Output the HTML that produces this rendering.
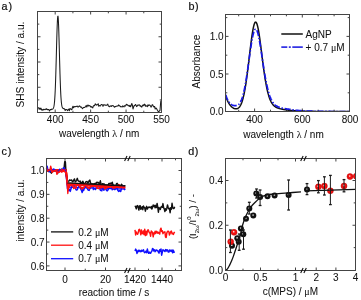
<!DOCTYPE html>
<html><head><meta charset="utf-8"><style>
html,body{margin:0;padding:0;background:#fff;width:361px;height:300px;overflow:hidden}
svg{display:block;filter:blur(0.3px)}
text{font-family:"Liberation Sans", sans-serif;stroke:#111;stroke-width:0.05px}
</style></head><body>
<svg width="361" height="300" viewBox="0 0 361 300" font-family='"Liberation Sans", sans-serif'><text x="1.50" y="10.00" font-size="10.8" text-anchor="start" fill="#111" style="stroke-width:0.2px">a<tspan dx="0.9">)</tspan></text>
<line x1="55.20" y1="112.50" x2="55.20" y2="109.50" stroke="#444" stroke-width="1"/>
<line x1="55.20" y1="11.50" x2="55.20" y2="14.50" stroke="#444" stroke-width="1"/>
<line x1="72.92" y1="112.50" x2="72.92" y2="110.70" stroke="#444" stroke-width="1"/>
<line x1="72.92" y1="11.50" x2="72.92" y2="13.30" stroke="#444" stroke-width="1"/>
<line x1="90.64" y1="112.50" x2="90.64" y2="109.50" stroke="#444" stroke-width="1"/>
<line x1="90.64" y1="11.50" x2="90.64" y2="14.50" stroke="#444" stroke-width="1"/>
<line x1="108.35" y1="112.50" x2="108.35" y2="110.70" stroke="#444" stroke-width="1"/>
<line x1="108.35" y1="11.50" x2="108.35" y2="13.30" stroke="#444" stroke-width="1"/>
<line x1="126.07" y1="112.50" x2="126.07" y2="109.50" stroke="#444" stroke-width="1"/>
<line x1="126.07" y1="11.50" x2="126.07" y2="14.50" stroke="#444" stroke-width="1"/>
<line x1="143.79" y1="112.50" x2="143.79" y2="110.70" stroke="#444" stroke-width="1"/>
<line x1="143.79" y1="11.50" x2="143.79" y2="13.30" stroke="#444" stroke-width="1"/>
<line x1="37.50" y1="24.12" x2="39.30" y2="24.12" stroke="#444" stroke-width="1"/>
<line x1="161.50" y1="24.12" x2="159.70" y2="24.12" stroke="#444" stroke-width="1"/>
<line x1="37.50" y1="36.75" x2="40.50" y2="36.75" stroke="#444" stroke-width="1"/>
<line x1="161.50" y1="36.75" x2="158.50" y2="36.75" stroke="#444" stroke-width="1"/>
<line x1="37.50" y1="49.38" x2="39.30" y2="49.38" stroke="#444" stroke-width="1"/>
<line x1="161.50" y1="49.38" x2="159.70" y2="49.38" stroke="#444" stroke-width="1"/>
<line x1="37.50" y1="62.00" x2="40.50" y2="62.00" stroke="#444" stroke-width="1"/>
<line x1="161.50" y1="62.00" x2="158.50" y2="62.00" stroke="#444" stroke-width="1"/>
<line x1="37.50" y1="74.62" x2="39.30" y2="74.62" stroke="#444" stroke-width="1"/>
<line x1="161.50" y1="74.62" x2="159.70" y2="74.62" stroke="#444" stroke-width="1"/>
<line x1="37.50" y1="87.25" x2="40.50" y2="87.25" stroke="#444" stroke-width="1"/>
<line x1="161.50" y1="87.25" x2="158.50" y2="87.25" stroke="#444" stroke-width="1"/>
<line x1="37.50" y1="99.88" x2="39.30" y2="99.88" stroke="#444" stroke-width="1"/>
<line x1="161.50" y1="99.88" x2="159.70" y2="99.88" stroke="#444" stroke-width="1"/>
<polyline points="38.00,107.55 38.60,107.90 39.20,109.23 39.80,107.93 40.40,109.25 41.00,108.13 41.60,110.03 42.20,109.58 42.80,110.26 43.40,109.28 44.00,109.82 44.60,109.41 45.20,109.13 45.80,109.59 46.40,108.79 47.00,109.25 47.60,109.80 48.20,109.49 48.80,109.41 49.40,111.02 50.00,110.03 50.60,109.47 51.20,109.66 51.80,109.06 52.40,109.16 52.60,109.08 52.80,108.96 53.00,108.79 53.20,108.54 53.40,108.18 53.60,107.67 53.80,106.97 54.00,106.01 54.20,104.73 54.40,103.04 54.60,100.87 54.80,98.14 55.00,94.77 55.20,90.70 55.40,85.90 55.60,80.38 55.80,74.16 56.00,67.36 56.20,60.12 56.40,52.62 56.60,45.14 56.80,37.93 57.00,31.32 57.20,25.58 57.40,21.00 57.60,17.80 57.80,16.15 58.00,16.14 58.20,17.76 58.40,20.94 58.60,25.49 58.80,31.21 59.00,37.80 59.20,44.98 59.40,52.44 59.60,59.91 59.80,67.13 60.00,73.91 60.20,80.10 60.40,85.60 60.60,90.37 60.80,94.41 61.00,97.76 61.20,100.47 61.40,102.62 61.60,104.28 61.80,105.54 62.00,106.47 62.20,107.15 62.40,107.63 62.60,107.97 62.80,108.19 63.00,108.34 63.20,108.44 63.40,108.49 63.60,108.59 63.80,108.72 64.00,108.63 64.60,108.99 65.20,110.53 65.80,109.47 66.40,109.59 67.00,109.90 67.60,110.68 68.20,109.44 68.80,109.12 69.40,110.73 70.00,108.46 70.60,108.96 71.20,109.32 71.80,109.76 72.40,107.53 73.00,106.26 73.60,107.70 74.20,106.79 74.80,106.61 75.40,106.81 76.00,106.42 76.60,106.43 77.20,106.00 77.80,106.92 78.40,107.01 79.00,106.17 79.60,105.87 80.20,106.72 80.80,107.24 81.40,107.07 82.00,108.05 82.60,108.64 83.20,107.77 83.80,107.40 84.40,107.46 85.00,107.08 85.60,106.76 86.20,105.36 86.80,107.04 87.40,105.85 88.00,104.92 88.60,106.00 89.20,105.69 89.80,105.59 90.40,106.34 91.00,107.24 91.60,106.54 92.20,107.35 92.80,107.91 93.40,105.84 94.00,105.51 94.60,105.63 95.20,103.80 95.80,104.41 96.40,105.09 97.00,104.77 97.60,104.78 98.20,103.68 98.80,106.27 99.40,105.54 100.00,105.92 100.60,105.73 101.20,104.48 101.80,104.59 102.40,104.67 103.00,106.35 103.60,104.74 104.20,104.97 104.80,104.86 105.40,105.21 106.00,105.08 106.60,105.31 107.20,104.83 107.80,104.15 108.40,106.12 109.00,106.22 109.60,106.80 110.20,106.11 110.80,105.87 111.40,106.48 112.00,105.45 112.60,105.68 113.20,105.66 113.80,106.32 114.40,107.27 115.00,106.49 115.60,106.66 116.20,106.15 116.80,106.23 117.40,105.89 118.00,106.05 118.60,104.92 119.20,105.66 119.80,105.67 120.40,106.80 121.00,106.61 121.60,106.79 122.20,106.93 122.80,105.81 123.40,106.47 124.00,106.88 124.60,105.64 125.20,106.08 125.80,105.23 126.40,104.27 127.00,105.07 127.60,104.85 128.20,105.66 128.80,105.65 129.40,106.38 130.00,105.32 130.60,106.72 131.20,105.39 131.80,103.52 132.40,105.14 133.00,109.00 133.60,107.09 134.20,105.49 134.80,105.63 135.40,104.49 136.00,105.11 136.60,106.63 137.20,106.09 137.80,105.00 138.40,105.24 139.00,104.80 139.60,104.92 140.20,106.19 140.80,105.84 141.40,107.00 142.00,106.90 142.60,105.18 143.20,104.88 143.80,105.74 144.40,104.13 145.00,104.51 145.60,106.33 146.20,106.02 146.80,105.86 147.40,106.59 148.00,104.68 148.60,105.80 149.20,105.01 149.80,105.11 150.40,105.74 151.00,107.15 151.60,106.06 152.20,104.75 152.80,104.80 153.40,106.60 154.00,106.97 154.60,106.45 155.20,109.06 155.80,108.09 156.40,108.23 157.00,109.42 157.60,110.57 158.20,111.49 158.80,111.70 159.40,110.86 160.00,110.48 160.60,103.11 160.90,100.50" fill="none" stroke="#1a1a1a" stroke-width="1.05" stroke-linejoin="round" />
<rect x="37.5" y="11.5" width="124.0" height="101.0" fill="none" stroke="#444" stroke-width="1"/>
<text x="55.20" y="123.00" font-size="10" text-anchor="middle" fill="#111" >400</text>
<text x="90.64" y="123.00" font-size="10" text-anchor="middle" fill="#111" >450</text>
<text x="126.07" y="123.00" font-size="10" text-anchor="middle" fill="#111" >500</text>
<text x="161.50" y="123.00" font-size="10" text-anchor="middle" fill="#111" >550</text>
<text x="99.15" y="137.40" font-size="10" text-anchor="middle" fill="#111" >wavelength <tspan font-family="Liberation Serif">λ</tspan> / nm</text>
<text x="0" y="0" font-size="10.1" text-anchor="middle" fill="#111" transform="translate(24.20,64.50) rotate(-90)" >SHS intensity / a.u.</text>
<text x="188.40" y="10.20" font-size="10.8" text-anchor="start" fill="#111" style="stroke-width:0.2px">b<tspan dx="0.6">)</tspan></text>
<line x1="238.70" y1="111.50" x2="238.70" y2="109.70" stroke="#444" stroke-width="1"/>
<line x1="238.70" y1="14.50" x2="238.70" y2="16.30" stroke="#444" stroke-width="1"/>
<line x1="254.60" y1="111.50" x2="254.60" y2="108.50" stroke="#444" stroke-width="1"/>
<line x1="254.60" y1="14.50" x2="254.60" y2="17.50" stroke="#444" stroke-width="1"/>
<line x1="270.50" y1="111.50" x2="270.50" y2="109.70" stroke="#444" stroke-width="1"/>
<line x1="270.50" y1="14.50" x2="270.50" y2="16.30" stroke="#444" stroke-width="1"/>
<line x1="286.40" y1="111.50" x2="286.40" y2="109.70" stroke="#444" stroke-width="1"/>
<line x1="286.40" y1="14.50" x2="286.40" y2="16.30" stroke="#444" stroke-width="1"/>
<line x1="302.30" y1="111.50" x2="302.30" y2="108.50" stroke="#444" stroke-width="1"/>
<line x1="302.30" y1="14.50" x2="302.30" y2="17.50" stroke="#444" stroke-width="1"/>
<line x1="318.20" y1="111.50" x2="318.20" y2="109.70" stroke="#444" stroke-width="1"/>
<line x1="318.20" y1="14.50" x2="318.20" y2="16.30" stroke="#444" stroke-width="1"/>
<line x1="334.10" y1="111.50" x2="334.10" y2="109.70" stroke="#444" stroke-width="1"/>
<line x1="334.10" y1="14.50" x2="334.10" y2="16.30" stroke="#444" stroke-width="1"/>
<line x1="225.50" y1="92.80" x2="227.30" y2="92.80" stroke="#444" stroke-width="1"/>
<line x1="349.50" y1="92.80" x2="347.70" y2="92.80" stroke="#444" stroke-width="1"/>
<line x1="225.50" y1="74.00" x2="228.50" y2="74.00" stroke="#444" stroke-width="1"/>
<line x1="349.50" y1="74.00" x2="346.50" y2="74.00" stroke="#444" stroke-width="1"/>
<line x1="225.50" y1="55.20" x2="227.30" y2="55.20" stroke="#444" stroke-width="1"/>
<line x1="349.50" y1="55.20" x2="347.70" y2="55.20" stroke="#444" stroke-width="1"/>
<line x1="225.50" y1="36.40" x2="228.50" y2="36.40" stroke="#444" stroke-width="1"/>
<line x1="349.50" y1="36.40" x2="346.50" y2="36.40" stroke="#444" stroke-width="1"/>
<line x1="225.50" y1="17.60" x2="227.30" y2="17.60" stroke="#444" stroke-width="1"/>
<line x1="349.50" y1="17.60" x2="347.70" y2="17.60" stroke="#444" stroke-width="1"/>
<defs><clipPath id="cb"><rect x="225.5" y="14.5" width="124" height="96.6"/></clipPath></defs><g clip-path="url(#cb)">
<polyline points="225.70,95.81 226.20,97.35 226.70,98.73 227.20,99.97 227.70,101.09 228.20,102.10 228.70,103.00 229.20,103.82 229.70,104.56 230.20,105.23 230.70,105.83 231.20,106.37 231.70,106.86 232.20,107.29 232.70,107.66 233.20,107.99 233.70,108.26 234.20,108.49 234.70,108.66 235.20,108.78 235.70,108.84 236.20,108.84 236.70,108.79 237.20,108.67 237.70,108.47 238.20,108.18 238.70,107.78 239.20,107.28 239.70,106.66 240.20,105.89 240.70,104.99 241.20,103.91 241.70,102.66 242.20,101.22 242.70,99.57 243.20,97.70 243.70,95.60 244.20,93.26 244.70,90.68 245.20,87.84 245.70,84.77 246.20,81.46 246.70,77.92 247.20,74.19 247.70,70.27 248.20,66.22 248.70,62.06 249.20,57.84 249.70,53.61 250.20,49.35 250.70,45.26 251.20,41.32 251.70,37.61 252.20,34.18 252.70,31.08 253.20,28.38 253.70,26.11 254.20,24.32 254.70,23.04 255.20,22.29 255.70,22.09 256.20,22.43 256.70,23.31 257.20,24.71 257.70,26.60 258.20,28.95 258.70,31.70 259.20,34.81 259.70,38.22 260.20,41.87 260.70,45.70 261.20,49.64 261.70,53.64 262.20,57.64 262.70,61.59 263.20,65.44 263.70,69.17 264.20,72.73 264.70,76.10 265.20,79.27 265.70,82.24 266.20,84.99 266.70,87.52 267.20,89.85 267.70,91.97 268.20,93.90 268.70,95.65 269.20,97.23 269.70,98.64 270.20,99.90 270.70,101.02 271.20,102.01 271.70,102.89 272.20,103.66 272.70,104.34 273.20,104.94 273.70,105.46 274.20,105.92 274.70,106.32 275.20,106.68 275.70,106.99 276.20,107.27 276.70,107.52 277.20,107.75 277.70,107.95 278.20,108.14 278.70,108.30 279.20,108.46 279.70,108.60 280.20,108.74 280.70,108.86 281.20,108.98 281.70,109.09 282.20,109.20 282.70,109.30 283.20,109.39 283.70,109.49 284.20,109.57 284.70,109.65 285.20,109.73 285.70,109.81 286.20,109.88 286.70,109.95 287.20,110.01 287.70,110.08 288.20,110.14 288.70,110.19 289.20,110.25 289.70,110.30 290.20,110.35 290.70,110.40 291.20,110.45 291.70,110.49 292.20,110.54 292.70,110.58 293.20,110.62 293.70,110.65 294.20,110.69 294.70,110.72 295.20,110.76 295.70,110.79 296.20,110.82 296.70,110.85 297.20,110.88 297.70,110.90 298.20,110.93 298.70,110.95 299.20,110.98 299.70,111.00 300.20,111.02 300.70,111.04 301.20,111.06 301.70,111.08 302.20,111.10 302.70,111.12 303.20,111.13 303.70,111.15 304.20,111.17 304.70,111.18 305.20,111.19 305.70,111.21 306.20,111.22 306.70,111.23 307.20,111.25 307.70,111.26 308.20,111.27 308.70,111.28 309.20,111.29 309.70,111.30 310.20,111.31 310.70,111.32 311.20,111.33 311.70,111.34 312.20,111.35 312.70,111.35 313.20,111.36 313.70,111.37 314.20,111.38 314.70,111.38 315.20,111.39 315.70,111.40 316.20,111.40 316.70,111.41 317.20,111.41 317.70,111.42 318.20,111.42 318.70,111.43 319.20,111.43 319.70,111.44 320.20,111.44 320.70,111.45 321.20,111.45 321.70,111.46 322.20,111.46 322.70,111.46 323.20,111.47 323.70,111.47 324.20,111.48 324.70,111.48 325.20,111.48 325.70,111.48 326.20,111.49 326.70,111.49 327.20,111.49 327.70,111.50 328.20,111.50 328.70,111.50 329.20,111.50 329.70,111.51 330.20,111.51 330.70,111.51 331.20,111.51 331.70,111.52 332.20,111.52 332.70,111.52 333.20,111.52 333.70,111.52 334.20,111.52 334.70,111.53 335.20,111.53 335.70,111.53 336.20,111.53 336.70,111.53 337.20,111.53 337.70,111.54 338.20,111.54 338.70,111.54 339.20,111.54 339.70,111.54 340.20,111.54 340.70,111.54 341.20,111.55 341.70,111.55 342.20,111.55 342.70,111.55 343.20,111.55 343.70,111.55 344.20,111.55 344.70,111.55 345.20,111.55 345.70,111.55 346.20,111.56 346.70,111.56 347.20,111.56 347.70,111.56 348.20,111.56 348.70,111.56 349.20,111.56" fill="none" stroke="#111" stroke-width="1.5" stroke-linejoin="round" />
<polyline points="225.70,94.75 226.20,96.24 226.70,97.57 227.20,98.75 227.70,99.80 228.20,100.73 228.70,101.54 229.20,102.26 229.70,102.88 230.20,103.43 230.70,103.89 231.20,104.29 231.70,104.63 232.20,104.91 232.70,105.15 233.20,105.33 233.70,105.47 234.20,105.57 234.70,105.62 235.20,105.64 235.70,105.61 236.20,105.54 236.70,105.44 237.20,105.27 237.70,105.04 238.20,104.72 238.70,104.32 239.20,103.81 239.70,103.19 240.20,102.44 240.70,101.54 241.20,100.49 241.70,99.26 242.20,97.86 242.70,96.26 243.20,94.46 243.70,92.45 244.20,90.23 244.70,87.81 245.20,85.18 245.70,82.35 246.20,79.34 246.70,76.17 247.20,72.84 247.70,69.40 248.20,65.86 248.70,62.27 249.20,58.66 249.70,55.07 250.20,51.47 250.70,48.05 251.20,44.78 251.70,41.72 252.20,38.90 252.70,36.37 253.20,34.17 253.70,32.33 254.20,30.87 254.70,29.83 255.20,29.22 255.70,29.05 256.20,29.31 256.70,30.00 257.20,31.12 257.70,32.62 258.20,34.50 258.70,36.71 259.20,39.23 259.70,41.99 260.20,44.97 260.70,48.11 261.20,51.37 261.70,54.70 262.20,58.05 262.70,61.40 263.20,64.70 263.70,67.92 264.20,71.03 264.70,74.02 265.20,76.88 265.70,79.58 266.20,82.14 266.70,84.53 267.20,86.77 267.70,88.86 268.20,90.80 268.70,92.58 269.20,94.23 269.70,95.73 270.20,97.10 270.70,98.34 271.20,99.46 271.70,100.47 272.20,101.38 272.70,102.18 273.20,102.90 273.70,103.53 274.20,104.10 274.70,104.60 275.20,105.04 275.70,105.44 276.20,105.79 276.70,106.10 277.20,106.38 277.70,106.63 278.20,106.86 278.70,107.06 279.20,107.25 279.70,107.42 280.20,107.58 280.70,107.72 281.20,107.86 281.70,107.99 282.20,108.11 282.70,108.22 283.20,108.32 283.70,108.42 284.20,108.52 284.70,108.61 285.20,108.70 285.70,108.78 286.20,108.86 286.70,108.93 287.20,109.00 287.70,109.07 288.20,109.13 288.70,109.20 289.20,109.26 289.70,109.31 290.20,109.38 290.70,109.47 291.20,109.56 291.70,109.64 292.20,109.71 292.70,109.79 293.20,109.86 293.70,109.93 294.20,109.99 294.70,110.06 295.20,110.12 295.70,110.18 296.20,110.23 296.70,110.28 297.20,110.34 297.70,110.38 298.20,110.43 298.70,110.48 299.20,110.52 299.70,110.56 300.20,110.60 300.70,110.64 301.20,110.68 301.70,110.71 302.20,110.74 302.70,110.78 303.20,110.81 303.70,110.84 304.20,110.87 304.70,110.89 305.20,110.92 305.70,110.94 306.20,110.97 306.70,110.99 307.20,111.01 307.70,111.04 308.20,111.06 308.70,111.08 309.20,111.09 309.70,111.11 310.20,111.13 310.70,111.15 311.20,111.16 311.70,111.18 312.20,111.19 312.70,111.21 313.20,111.22 313.70,111.23 314.20,111.25 314.70,111.26 315.20,111.27 315.70,111.28 316.20,111.29 316.70,111.30 317.20,111.31 317.70,111.32 318.20,111.33 318.70,111.34 319.20,111.35 319.70,111.36 320.20,111.37 320.70,111.37 321.20,111.38 321.70,111.39 322.20,111.39 322.70,111.40 323.20,111.41 323.70,111.41 324.20,111.42 324.70,111.42 325.20,111.43 325.70,111.44 326.20,111.44 326.70,111.45 327.20,111.45 327.70,111.45 328.20,111.46 328.70,111.46 329.20,111.47 329.70,111.47 330.20,111.47 330.70,111.48 331.20,111.48 331.70,111.49 332.20,111.49 332.70,111.49 333.20,111.49 333.70,111.50 334.20,111.50 334.70,111.50 335.20,111.51 335.70,111.51 336.20,111.51 336.70,111.51 337.20,111.52 337.70,111.52 338.20,111.52 338.70,111.52 339.20,111.52 339.70,111.53 340.20,111.53 340.70,111.53 341.20,111.53 341.70,111.53 342.20,111.54 342.70,111.54 343.20,111.54 343.70,111.54 344.20,111.54 344.70,111.54 345.20,111.54 345.70,111.55 346.20,111.55 346.70,111.55 347.20,111.55 347.70,111.55 348.20,111.55 348.70,111.55 349.20,111.55" fill="none" stroke="#1818e8" stroke-width="1.7" stroke-linejoin="round" stroke-dasharray="6 1.8 1.4 1.8"/>
</g>
<rect x="225.5" y="14.5" width="124.0" height="97.0" fill="none" stroke="#444" stroke-width="1"/>
<text x="223.60" y="115.20" font-size="10" text-anchor="end" fill="#111" >0.0</text>
<text x="223.60" y="77.60" font-size="10" text-anchor="end" fill="#111" >0.5</text>
<text x="223.60" y="40.00" font-size="10" text-anchor="end" fill="#111" >1.0</text>
<text x="254.60" y="123.00" font-size="10" text-anchor="middle" fill="#111" >400</text>
<text x="302.30" y="123.00" font-size="10" text-anchor="middle" fill="#111" >600</text>
<text x="350.00" y="123.00" font-size="10" text-anchor="middle" fill="#111" >800</text>
<text x="283.50" y="137.60" font-size="10" text-anchor="middle" fill="#111" >wavelength <tspan font-family="Liberation Serif">λ</tspan> / nm</text>
<text x="0" y="0" font-size="10.1" text-anchor="middle" fill="#111" transform="translate(200.20,61.60) rotate(-90)" >Absorbance</text>
<line x1="281.30" y1="34.00" x2="302.80" y2="34.00" stroke="#111" stroke-width="1.5"/>
<text x="305.60" y="37.70" font-size="10" text-anchor="start" fill="#111" >AgNP</text>
<line x1="281.30" y1="47.10" x2="302.80" y2="47.10" stroke="#1010e0" stroke-width="1.5"/>
<line x1="281.3" y1="47.1" x2="302.8" y2="47.1" stroke="#fff" stroke-width="2" stroke-dasharray="0 6 1.5 2 1.5 20"/>
<text x="305.60" y="50.90" font-size="10" text-anchor="start" fill="#111" >+ 0.7 <tspan font-family="Liberation Serif">μ</tspan>M</text>
<text x="1.50" y="154.60" font-size="10.8" text-anchor="start" fill="#111" style="stroke-width:0.2px">c<tspan dx="0.9">)</tspan></text>
<line x1="65.00" y1="270.50" x2="65.00" y2="267.50" stroke="#444" stroke-width="1"/>
<line x1="65.00" y1="158.50" x2="65.00" y2="161.50" stroke="#444" stroke-width="1"/>
<line x1="85.25" y1="270.50" x2="85.25" y2="268.70" stroke="#444" stroke-width="1"/>
<line x1="85.25" y1="158.50" x2="85.25" y2="160.30" stroke="#444" stroke-width="1"/>
<line x1="105.50" y1="270.50" x2="105.50" y2="267.50" stroke="#444" stroke-width="1"/>
<line x1="105.50" y1="158.50" x2="105.50" y2="161.50" stroke="#444" stroke-width="1"/>
<line x1="135.00" y1="270.50" x2="135.00" y2="267.50" stroke="#444" stroke-width="1"/>
<line x1="135.00" y1="158.50" x2="135.00" y2="161.50" stroke="#444" stroke-width="1"/>
<line x1="148.50" y1="270.50" x2="148.50" y2="268.70" stroke="#444" stroke-width="1"/>
<line x1="148.50" y1="158.50" x2="148.50" y2="160.30" stroke="#444" stroke-width="1"/>
<line x1="162.00" y1="270.50" x2="162.00" y2="267.50" stroke="#444" stroke-width="1"/>
<line x1="162.00" y1="158.50" x2="162.00" y2="161.50" stroke="#444" stroke-width="1"/>
<line x1="175.50" y1="270.50" x2="175.50" y2="268.70" stroke="#444" stroke-width="1"/>
<line x1="175.50" y1="158.50" x2="175.50" y2="160.30" stroke="#444" stroke-width="1"/>
<line x1="46.50" y1="265.90" x2="49.50" y2="265.90" stroke="#444" stroke-width="1"/>
<line x1="181.50" y1="265.90" x2="178.50" y2="265.90" stroke="#444" stroke-width="1"/>
<line x1="46.50" y1="253.97" x2="48.30" y2="253.97" stroke="#444" stroke-width="1"/>
<line x1="181.50" y1="253.97" x2="179.70" y2="253.97" stroke="#444" stroke-width="1"/>
<line x1="46.50" y1="242.05" x2="49.50" y2="242.05" stroke="#444" stroke-width="1"/>
<line x1="181.50" y1="242.05" x2="178.50" y2="242.05" stroke="#444" stroke-width="1"/>
<line x1="46.50" y1="230.12" x2="48.30" y2="230.12" stroke="#444" stroke-width="1"/>
<line x1="181.50" y1="230.12" x2="179.70" y2="230.12" stroke="#444" stroke-width="1"/>
<line x1="46.50" y1="218.20" x2="49.50" y2="218.20" stroke="#444" stroke-width="1"/>
<line x1="181.50" y1="218.20" x2="178.50" y2="218.20" stroke="#444" stroke-width="1"/>
<line x1="46.50" y1="206.28" x2="48.30" y2="206.28" stroke="#444" stroke-width="1"/>
<line x1="181.50" y1="206.28" x2="179.70" y2="206.28" stroke="#444" stroke-width="1"/>
<line x1="46.50" y1="194.35" x2="49.50" y2="194.35" stroke="#444" stroke-width="1"/>
<line x1="181.50" y1="194.35" x2="178.50" y2="194.35" stroke="#444" stroke-width="1"/>
<line x1="46.50" y1="182.43" x2="48.30" y2="182.43" stroke="#444" stroke-width="1"/>
<line x1="181.50" y1="182.43" x2="179.70" y2="182.43" stroke="#444" stroke-width="1"/>
<line x1="46.50" y1="170.50" x2="49.50" y2="170.50" stroke="#444" stroke-width="1"/>
<line x1="181.50" y1="170.50" x2="178.50" y2="170.50" stroke="#444" stroke-width="1"/>
<line x1="46.50" y1="158.57" x2="48.30" y2="158.57" stroke="#444" stroke-width="1"/>
<line x1="181.50" y1="158.57" x2="179.70" y2="158.57" stroke="#444" stroke-width="1"/>
<polyline points="46.50,170.50 66.00,170.50 67.50,183.14 125.20,186.00" fill="none" stroke="#111" stroke-width="1.6" stroke-linejoin="round" />
<polyline points="46.50,169.78 66.00,169.78 67.50,184.33 125.20,187.67" fill="none" stroke="#ff1010" stroke-width="1.6" stroke-linejoin="round" />
<polyline points="67.50,187.19 125.20,189.10" fill="none" stroke="#1010ff" stroke-width="1.3" stroke-linejoin="round" />
<polyline points="46.50,168.93 47.20,168.83 47.90,171.35 48.60,171.54 49.30,171.36 50.00,171.15 50.70,172.22 51.40,173.18 52.10,172.00 52.80,171.26 53.50,170.25 54.20,170.92 54.90,170.26 55.60,170.02 56.30,171.42 57.00,171.08 57.70,173.39 58.40,171.24 59.10,170.12 59.80,170.66 60.50,169.59 61.20,169.80 61.90,168.99 62.60,169.67 63.30,169.43 64.00,168.67 64.70,161.80 65.40,161.80 66.10,173.72 66.80,177.48 67.50,181.83 68.20,181.13 68.90,181.05 69.60,179.97 70.30,180.37 71.00,180.31 71.70,179.96 72.40,181.69 73.10,181.35 73.80,179.98 74.50,178.89 75.20,181.87 75.90,181.55 76.60,180.21 77.30,178.31 78.00,180.61 78.70,181.17 79.40,181.67 80.10,181.06 80.80,182.96 81.50,183.34 82.20,182.08 82.90,181.34 83.60,183.48 84.30,184.39 85.00,183.39 85.70,181.97 86.40,181.73 87.10,181.53 87.80,182.86 88.50,182.28 89.20,180.64 89.90,180.11 90.60,183.24 91.30,185.07 92.00,183.52 92.70,184.91 93.40,183.84 94.10,184.06 94.80,183.38 95.50,183.31 96.20,183.28 96.90,182.13 97.60,182.80 98.30,182.37 99.00,183.53 99.70,183.24 100.40,180.77 101.10,184.58 101.80,184.60 102.50,183.65 103.20,184.64 103.90,183.75 104.60,184.56 105.30,187.02 106.00,186.23 106.70,186.57 107.40,186.17 108.10,185.41 108.80,183.47 109.50,183.44 110.20,183.53 110.90,183.08 111.60,183.89 112.30,182.15 113.00,185.24 113.70,185.19 114.40,186.50 115.10,186.90 115.80,186.35 116.50,183.66 117.20,183.29 117.90,184.28 118.60,184.56 119.30,185.72 120.00,185.51 120.70,186.18 121.40,184.27 122.10,184.96 122.80,186.14 123.50,187.13 124.20,186.89 124.90,185.21" fill="none" stroke="#111" stroke-width="1.4" stroke-linejoin="round" />
<polyline points="46.50,169.78 66.00,169.78 67.50,184.33" fill="none" stroke="#ff1010" stroke-width="1.7" stroke-linejoin="round" />
<polyline points="46.50,167.19 47.20,166.40 47.90,170.41 48.60,170.11 49.30,171.73 50.00,171.64 50.70,168.77 51.40,169.49 52.10,170.03 52.80,169.57 53.50,168.96 54.20,169.76 54.90,169.57 55.60,170.96 56.30,171.08 57.00,171.21 57.70,172.13 58.40,172.43 59.10,170.63 59.80,169.20 60.50,170.81 61.20,171.28 61.90,170.82 62.60,171.22 63.30,168.07 64.00,167.81 64.70,169.51 65.40,170.99 66.10,175.44 66.80,181.20 67.50,188.56 68.20,189.25 68.90,190.64 69.60,189.27 70.30,191.37 71.00,188.66 71.70,186.78 72.40,185.85 73.10,184.75 73.80,184.87 74.50,185.47 75.20,187.82 75.90,189.58 76.60,190.01 77.30,189.66 78.00,187.62 78.70,186.81 79.40,184.83 80.10,187.45 80.80,189.06 81.50,190.50 82.20,192.44 82.90,189.05 83.60,190.50 84.30,188.28 85.00,186.99 85.70,184.56 86.40,187.69 87.10,187.36 87.80,189.61 88.50,190.23 89.20,190.39 89.90,188.23 90.60,187.98 91.30,186.53 92.00,185.78 92.70,184.91 93.40,189.54 94.10,188.72 94.80,188.79 95.50,189.48 96.20,188.07 96.90,187.29 97.60,184.66 98.30,185.21 99.00,186.85 99.70,188.67 100.40,190.08 101.10,190.59 101.80,190.74 102.50,187.00 103.20,188.17 103.90,190.26 104.60,188.56 105.30,188.73 106.00,189.26 106.70,190.51 107.40,190.82 108.10,189.67 108.80,187.49 109.50,187.07 110.20,186.79 110.90,185.10 111.60,186.62 112.30,189.72 113.00,188.45 113.70,188.93 114.40,189.57 115.10,189.47 115.80,187.42 116.50,187.57 117.20,188.60 117.90,190.37 118.60,191.34 119.30,190.53 120.00,191.13 120.70,191.46 121.40,188.66 122.10,187.32 122.80,186.11 123.50,185.97 124.20,188.24 124.90,190.12" fill="none" stroke="#1010ff" stroke-width="1.5" stroke-linejoin="round" />
<polyline points="46.50,167.72 47.20,170.96 47.90,171.00 48.60,170.29 49.30,170.02 50.00,170.05 50.70,166.35 51.40,169.13 52.10,172.37 52.80,171.85 53.50,171.09 54.20,170.48 54.90,170.93 55.60,170.19 56.30,171.07 57.00,174.31 57.70,171.87 58.40,172.10 59.10,172.33 59.80,171.15 60.50,170.72 61.20,171.76 61.90,172.11 62.60,169.99 63.30,171.41 64.00,169.71 64.70,171.74 65.40,171.91 66.10,174.79 66.80,179.80 67.50,185.52 68.20,184.48 68.90,187.66 69.60,185.94 70.30,185.23 71.00,185.41 71.70,183.98 72.40,185.98 73.10,186.35 73.80,188.44 74.50,187.15 75.20,188.04 75.90,188.13 76.60,184.15 77.30,183.64 78.00,184.13 78.70,184.44 79.40,186.49 80.10,187.48 80.80,186.81 81.50,189.00 82.20,187.70 82.90,188.74 83.60,187.15 84.30,187.27 85.00,184.41 85.70,183.72 86.40,185.07 87.10,187.39 87.80,187.84 88.50,187.63 89.20,188.56 89.90,187.73 90.60,186.41 91.30,186.45 92.00,186.55 92.70,185.23 93.40,185.61 94.10,184.86 94.80,185.92 95.50,184.93 96.20,186.57 96.90,188.31 97.60,188.04 98.30,188.42 99.00,188.61 99.70,187.61 100.40,186.05 101.10,188.04 101.80,187.11 102.50,187.03 103.20,187.34 103.90,186.89 104.60,188.91 105.30,188.04 106.00,188.30 106.70,187.83 107.40,187.60 108.10,187.34 108.80,187.31 109.50,186.48 110.20,184.68 110.90,185.14 111.60,185.90 112.30,186.79 113.00,188.30 113.70,187.89 114.40,186.00 115.10,187.98 115.80,186.66 116.50,185.69 117.20,185.97 117.90,185.83 118.60,185.52 119.30,184.91 120.00,185.74 120.70,185.92 121.40,187.20 122.10,187.13 122.80,187.41 123.50,187.14 124.20,187.57 124.90,186.69" fill="none" stroke="#ff1010" stroke-width="1.5" stroke-linejoin="round" />
<polyline points="66.50,172.00 67.80,193.50 69.00,183.00" fill="none" stroke="#ff1010" stroke-width="1.3" stroke-linejoin="round" />
<polyline points="67.50,183.14 125.20,186.00" fill="none" stroke="#111" stroke-width="1.5" stroke-linejoin="round" />
<polyline points="67.50,184.33 125.20,187.67" fill="none" stroke="#ff1010" stroke-width="1.6" stroke-linejoin="round" />
<polyline points="135.00,205.72 135.65,206.93 136.30,208.89 136.95,205.82 137.60,205.57 138.25,207.56 138.90,210.06 139.55,205.90 140.20,205.73 140.85,209.32 141.50,208.48 142.15,206.79 142.80,209.66 143.45,206.06 144.10,207.32 144.75,207.86 145.40,211.15 146.05,207.88 146.70,206.34 147.35,209.10 148.00,207.60 148.65,207.26 149.30,206.97 149.95,207.56 150.60,207.86 151.25,206.48 151.90,209.04 152.55,207.17 153.20,204.91 153.85,206.46 154.50,205.44 155.15,207.71 155.80,205.36 156.45,207.46 157.10,203.49 157.75,207.16 158.40,212.19 159.05,207.54 159.70,208.67 160.35,209.36 161.00,207.06 161.65,206.52 162.30,207.33 162.95,203.60 163.60,207.62 164.25,208.91 164.90,211.61 165.55,208.63 166.20,210.15 166.85,208.19 167.50,204.87 168.15,207.46 168.80,208.83 169.45,208.33 170.10,212.71 170.75,207.64 171.40,209.28 172.05,203.24 172.70,207.67 173.35,208.58 174.00,208.57 174.65,206.80" fill="none" stroke="#111" stroke-width="1.45" stroke-linejoin="round" />
<polyline points="135.00,229.92 135.65,234.96 136.30,232.01 136.95,233.37 137.60,234.24 138.25,232.39 138.90,229.63 139.55,229.29 140.20,231.63 140.85,234.77 141.50,230.05 142.15,233.45 142.80,233.69 143.45,230.99 144.10,234.55 144.75,229.20 145.40,235.59 146.05,231.32 146.70,234.94 147.35,231.28 148.00,229.66 148.65,230.95 149.30,232.70 149.95,232.80 150.60,236.20 151.25,231.03 151.90,231.73 152.55,232.55 153.20,236.83 153.85,232.86 154.50,233.94 155.15,231.29 155.80,233.53 156.45,231.35 157.10,231.74 157.75,233.25 158.40,232.32 159.05,233.06 159.70,234.07 160.35,229.62 161.00,228.14 161.65,231.42 162.30,230.83 162.95,233.66 163.60,232.18 164.25,232.21 164.90,231.82 165.55,237.14 166.20,237.51 166.85,232.90 167.50,231.46 168.15,231.18 168.80,231.53 169.45,235.00 170.10,233.50 170.75,231.65 171.40,231.11 172.05,233.75 172.70,233.29 173.35,234.47 174.00,232.92 174.65,231.92" fill="none" stroke="#ff1010" stroke-width="1.45" stroke-linejoin="round" />
<polyline points="135.00,251.00 135.65,249.12 136.30,250.09 136.95,253.45 137.60,251.49 138.25,250.24 138.90,251.68 139.55,250.36 140.20,251.04 140.85,251.80 141.50,250.22 142.15,251.29 142.80,250.73 143.45,249.77 144.10,252.05 144.75,252.64 145.40,252.16 146.05,251.02 146.70,252.72 147.35,249.00 148.00,251.98 148.65,253.32 149.30,252.11 149.95,253.04 150.60,253.33 151.25,251.84 151.90,251.01 152.55,248.56 153.20,248.92 153.85,250.93 154.50,249.83 155.15,251.66 155.80,250.20 156.45,250.07 157.10,250.86 157.75,250.51 158.40,252.11 159.05,253.24 159.70,249.78 160.35,251.29 161.00,249.06 161.65,255.18 162.30,252.42 162.95,249.64 163.60,250.35 164.25,250.83 164.90,251.58 165.55,249.59 166.20,251.08 166.85,249.66 167.50,250.08 168.15,251.92 168.80,252.15 169.45,250.00 170.10,251.20 170.75,250.16 171.40,251.54 172.05,249.94 172.70,252.82 173.35,250.27 174.00,252.36 174.65,251.49" fill="none" stroke="#1010ff" stroke-width="1.45" stroke-linejoin="round" />
<rect x="46.5" y="158.5" width="135.0" height="112.0" fill="none" stroke="#444" stroke-width="1"/>
<line x1="124.60" y1="161.10" x2="127.00" y2="155.90" stroke="#111" stroke-width="1.1"/>
<line x1="127.80" y1="161.10" x2="130.20" y2="155.90" stroke="#111" stroke-width="1.1"/>
<line x1="124.60" y1="273.10" x2="127.00" y2="267.90" stroke="#111" stroke-width="1.1"/>
<line x1="127.80" y1="273.10" x2="130.20" y2="267.90" stroke="#111" stroke-width="1.1"/>
<text x="44.60" y="174.10" font-size="10" text-anchor="end" fill="#111" >1.0</text>
<text x="44.60" y="197.95" font-size="10" text-anchor="end" fill="#111" >0.9</text>
<text x="44.60" y="221.80" font-size="10" text-anchor="end" fill="#111" >0.8</text>
<text x="44.60" y="245.65" font-size="10" text-anchor="end" fill="#111" >0.7</text>
<text x="44.60" y="269.50" font-size="10" text-anchor="end" fill="#111" >0.6</text>
<text x="65.00" y="282.50" font-size="10" text-anchor="middle" fill="#111" >0</text>
<text x="105.50" y="282.50" font-size="10" text-anchor="middle" fill="#111" >20</text>
<text x="135.00" y="282.50" font-size="10" text-anchor="middle" fill="#111" >1420</text>
<text x="162.00" y="282.50" font-size="10" text-anchor="middle" fill="#111" >1440</text>
<text x="113.95" y="295.80" font-size="10" text-anchor="middle" fill="#111" >reaction time / s</text>
<text x="0" y="0" font-size="10.1" text-anchor="middle" fill="#111" transform="translate(24.10,210.50) rotate(-90)" >intensity / a.u.</text>
<line x1="51.00" y1="231.90" x2="73.20" y2="231.90" stroke="#111" stroke-width="1.3"/>
<text x="78.20" y="235.60" font-size="10" text-anchor="start" fill="#111" >0.2 <tspan font-family="Liberation Serif">μ</tspan>M</text>
<line x1="51.00" y1="245.20" x2="73.20" y2="245.20" stroke="#ff1010" stroke-width="1.3"/>
<text x="78.20" y="248.90" font-size="10" text-anchor="start" fill="#111" >0.4 <tspan font-family="Liberation Serif">μ</tspan>M</text>
<line x1="51.00" y1="258.70" x2="73.20" y2="258.70" stroke="#1010ff" stroke-width="1.3"/>
<text x="78.20" y="262.40" font-size="10" text-anchor="start" fill="#111" >0.7 <tspan font-family="Liberation Serif">μ</tspan>M</text>
<text x="188.20" y="154.60" font-size="10.8" text-anchor="start" fill="#111" style="stroke-width:0.2px">d<tspan dx="0.6">)</tspan></text>
<line x1="225.50" y1="270.50" x2="225.50" y2="267.50" stroke="#444" stroke-width="1"/>
<line x1="225.50" y1="158.50" x2="225.50" y2="161.50" stroke="#444" stroke-width="1"/>
<line x1="243.00" y1="270.50" x2="243.00" y2="268.70" stroke="#444" stroke-width="1"/>
<line x1="243.00" y1="158.50" x2="243.00" y2="160.30" stroke="#444" stroke-width="1"/>
<line x1="260.50" y1="270.50" x2="260.50" y2="267.50" stroke="#444" stroke-width="1"/>
<line x1="260.50" y1="158.50" x2="260.50" y2="161.50" stroke="#444" stroke-width="1"/>
<line x1="278.00" y1="270.50" x2="278.00" y2="268.70" stroke="#444" stroke-width="1"/>
<line x1="278.00" y1="158.50" x2="278.00" y2="160.30" stroke="#444" stroke-width="1"/>
<line x1="295.50" y1="270.50" x2="295.50" y2="267.50" stroke="#444" stroke-width="1"/>
<line x1="295.50" y1="158.50" x2="295.50" y2="161.50" stroke="#444" stroke-width="1"/>
<line x1="316.20" y1="270.50" x2="316.20" y2="267.50" stroke="#444" stroke-width="1"/>
<line x1="316.20" y1="158.50" x2="316.20" y2="161.50" stroke="#444" stroke-width="1"/>
<line x1="335.90" y1="270.50" x2="335.90" y2="267.50" stroke="#444" stroke-width="1"/>
<line x1="335.90" y1="158.50" x2="335.90" y2="161.50" stroke="#444" stroke-width="1"/>
<line x1="225.50" y1="247.62" x2="227.30" y2="247.62" stroke="#444" stroke-width="1"/>
<line x1="355.50" y1="247.62" x2="353.70" y2="247.62" stroke="#444" stroke-width="1"/>
<line x1="225.50" y1="225.25" x2="228.50" y2="225.25" stroke="#444" stroke-width="1"/>
<line x1="355.50" y1="225.25" x2="352.50" y2="225.25" stroke="#444" stroke-width="1"/>
<line x1="225.50" y1="202.88" x2="227.30" y2="202.88" stroke="#444" stroke-width="1"/>
<line x1="355.50" y1="202.88" x2="353.70" y2="202.88" stroke="#444" stroke-width="1"/>
<line x1="225.50" y1="180.50" x2="228.50" y2="180.50" stroke="#444" stroke-width="1"/>
<line x1="355.50" y1="180.50" x2="352.50" y2="180.50" stroke="#444" stroke-width="1"/>
<defs><clipPath id="cd"><rect x="225.5" y="158" width="130" height="112"/></clipPath></defs>
<g clip-path="url(#cd)">
<circle cx="232" cy="245.7" r="3" fill="#111"/>
<circle cx="231.8" cy="245.2" r="0.85" fill="#fff" opacity="0.8"/>
<circle cx="237.3" cy="238.3" r="3" fill="#111"/>
<circle cx="237.10000000000002" cy="237.8" r="0.85" fill="#fff" opacity="0.8"/>
<circle cx="238.7" cy="241.7" r="3" fill="#111"/>
<circle cx="238.5" cy="241.2" r="0.85" fill="#fff" opacity="0.8"/>
<circle cx="240.9" cy="228.5" r="3" fill="#111"/>
<circle cx="240.70000000000002" cy="228.0" r="0.85" fill="#fff" opacity="0.8"/>
<circle cx="243.3" cy="234.3" r="3" fill="#111"/>
<circle cx="243.10000000000002" cy="233.8" r="0.85" fill="#fff" opacity="0.8"/>
<circle cx="246" cy="218.8" r="3" fill="#111"/>
<circle cx="245.8" cy="218.3" r="0.85" fill="#fff" opacity="0.8"/>
<circle cx="249.3" cy="208.5" r="3" fill="#111"/>
<circle cx="249.10000000000002" cy="208.0" r="0.85" fill="#fff" opacity="0.8"/>
<circle cx="253.3" cy="215.5" r="3" fill="#111"/>
<circle cx="253.10000000000002" cy="215.0" r="0.85" fill="#fff" opacity="0.8"/>
<circle cx="256.3" cy="193.5" r="3" fill="#111"/>
<circle cx="256.1" cy="193.0" r="0.85" fill="#fff" opacity="0.8"/>
<circle cx="260.1" cy="197" r="3" fill="#111"/>
<circle cx="259.90000000000003" cy="196.5" r="0.85" fill="#fff" opacity="0.8"/>
<circle cx="267.5" cy="196.3" r="3" fill="#111"/>
<circle cx="267.3" cy="195.8" r="0.85" fill="#fff" opacity="0.8"/>
<circle cx="274.6" cy="195.4" r="3" fill="#111"/>
<circle cx="274.40000000000003" cy="194.9" r="0.85" fill="#fff" opacity="0.8"/>
<circle cx="288.6" cy="195.1" r="3" fill="#111"/>
<circle cx="288.40000000000003" cy="194.6" r="0.85" fill="#fff" opacity="0.8"/>
<circle cx="307" cy="189.6" r="3" fill="#111"/>
<circle cx="306.8" cy="189.1" r="0.85" fill="#fff" opacity="0.8"/>
<circle cx="230.7" cy="241.7" r="3" fill="#f01010" stroke="#b00" stroke-width="0.5"/>
<circle cx="230.39999999999998" cy="241.1" r="0.85" fill="#fff" opacity="0.8"/>
<circle cx="234" cy="232.3" r="3" fill="#f01010" stroke="#b00" stroke-width="0.5"/>
<circle cx="233.7" cy="231.70000000000002" r="0.85" fill="#fff" opacity="0.8"/>
<circle cx="318.4" cy="186.8" r="3" fill="#f01010" stroke="#b00" stroke-width="0.5"/>
<circle cx="318.09999999999997" cy="186.20000000000002" r="0.85" fill="#fff" opacity="0.8"/>
<circle cx="324.4" cy="186.1" r="3" fill="#f01010" stroke="#b00" stroke-width="0.5"/>
<circle cx="324.09999999999997" cy="185.5" r="0.85" fill="#fff" opacity="0.8"/>
<circle cx="330.4" cy="190.8" r="3" fill="#f01010" stroke="#b00" stroke-width="0.5"/>
<circle cx="330.09999999999997" cy="190.20000000000002" r="0.85" fill="#fff" opacity="0.8"/>
<circle cx="344" cy="186" r="3" fill="#f01010" stroke="#b00" stroke-width="0.5"/>
<circle cx="343.7" cy="185.4" r="0.85" fill="#fff" opacity="0.8"/>
<circle cx="350" cy="176.6" r="3" fill="#f01010" stroke="#b00" stroke-width="0.5"/>
<circle cx="349.7" cy="176.0" r="0.85" fill="#fff" opacity="0.8"/>
<circle cx="356.3" cy="176.2" r="3" fill="#f01010" stroke="#b00" stroke-width="0.5"/>
<circle cx="356.0" cy="175.6" r="0.85" fill="#fff" opacity="0.8"/>
</g>
<path d="M225.5,270.2 C225.83,269.97 226.83,269.60 227.50,268.80 C228.17,268.00 228.83,266.70 229.50,265.40 C230.17,264.10 230.82,262.63 231.50,261.00 C232.18,259.37 232.57,258.55 233.60,255.60 C234.63,252.65 236.55,246.82 237.70,243.30 C238.85,239.78 239.67,237.60 240.50,234.50 C241.33,231.40 241.80,227.78 242.70,224.70 C243.60,221.62 244.80,218.53 245.90,216.00 C247.00,213.47 248.20,211.33 249.30,209.50 C250.40,207.67 251.38,206.33 252.50,205.00 C253.62,203.67 254.75,202.67 256.00,201.50 C257.25,200.33 258.33,199.05 260.00,198.00 C261.67,196.95 263.57,195.88 266.00,195.20 C268.43,194.52 270.83,194.30 274.60,193.90 C278.37,193.50 284.20,193.13 288.60,192.80 C293.00,192.47 298.93,192.05 301.00,191.90" fill="none" stroke="#111" stroke-width="1.3"/>
<polyline points="306.00,190.80 355.50,189.40" fill="none" stroke="#111" stroke-width="1.3" stroke-linejoin="round" />
<line x1="230.40" y1="230.00" x2="230.40" y2="252.50" stroke="#1a1a1a" stroke-width="1.0"/>
<line x1="229.00" y1="230.00" x2="231.80" y2="230.00" stroke="#1a1a1a" stroke-width="1.3"/>
<line x1="229.00" y1="252.50" x2="231.80" y2="252.50" stroke="#1a1a1a" stroke-width="1.3"/>
<line x1="239.20" y1="234.00" x2="239.20" y2="250.30" stroke="#1a1a1a" stroke-width="1.0"/>
<line x1="237.80" y1="234.00" x2="240.60" y2="234.00" stroke="#1a1a1a" stroke-width="1.3"/>
<line x1="237.80" y1="250.30" x2="240.60" y2="250.30" stroke="#1a1a1a" stroke-width="1.3"/>
<line x1="243.50" y1="230.00" x2="243.50" y2="249.20" stroke="#1a1a1a" stroke-width="1.0"/>
<line x1="242.10" y1="230.00" x2="244.90" y2="230.00" stroke="#1a1a1a" stroke-width="1.3"/>
<line x1="242.10" y1="249.20" x2="244.90" y2="249.20" stroke="#1a1a1a" stroke-width="1.3"/>
<line x1="249.30" y1="202.30" x2="249.30" y2="214.00" stroke="#1a1a1a" stroke-width="1.0"/>
<line x1="247.90" y1="202.30" x2="250.70" y2="202.30" stroke="#1a1a1a" stroke-width="1.3"/>
<line x1="247.90" y1="214.00" x2="250.70" y2="214.00" stroke="#1a1a1a" stroke-width="1.3"/>
<line x1="256.50" y1="189.00" x2="256.50" y2="198.00" stroke="#1a1a1a" stroke-width="1.0"/>
<line x1="255.10" y1="189.00" x2="257.90" y2="189.00" stroke="#1a1a1a" stroke-width="1.3"/>
<line x1="255.10" y1="198.00" x2="257.90" y2="198.00" stroke="#1a1a1a" stroke-width="1.3"/>
<line x1="260.10" y1="190.00" x2="260.10" y2="205.50" stroke="#1a1a1a" stroke-width="1.0"/>
<line x1="258.70" y1="190.00" x2="261.50" y2="190.00" stroke="#1a1a1a" stroke-width="1.3"/>
<line x1="258.70" y1="205.50" x2="261.50" y2="205.50" stroke="#1a1a1a" stroke-width="1.3"/>
<line x1="288.60" y1="180.00" x2="288.60" y2="210.00" stroke="#1a1a1a" stroke-width="1.0"/>
<line x1="287.20" y1="180.00" x2="290.00" y2="180.00" stroke="#1a1a1a" stroke-width="1.3"/>
<line x1="287.20" y1="210.00" x2="290.00" y2="210.00" stroke="#1a1a1a" stroke-width="1.3"/>
<line x1="307.00" y1="183.60" x2="307.00" y2="194.60" stroke="#1a1a1a" stroke-width="1.0"/>
<line x1="305.60" y1="183.60" x2="308.40" y2="183.60" stroke="#1a1a1a" stroke-width="1.3"/>
<line x1="305.60" y1="194.60" x2="308.40" y2="194.60" stroke="#1a1a1a" stroke-width="1.3"/>
<line x1="318.40" y1="180.60" x2="318.40" y2="192.80" stroke="#1a1a1a" stroke-width="1.0"/>
<line x1="317.00" y1="180.60" x2="319.80" y2="180.60" stroke="#1a1a1a" stroke-width="1.3"/>
<line x1="317.00" y1="192.80" x2="319.80" y2="192.80" stroke="#1a1a1a" stroke-width="1.3"/>
<line x1="324.40" y1="176.80" x2="324.40" y2="195.00" stroke="#1a1a1a" stroke-width="1.0"/>
<line x1="323.00" y1="176.80" x2="325.80" y2="176.80" stroke="#1a1a1a" stroke-width="1.3"/>
<line x1="323.00" y1="195.00" x2="325.80" y2="195.00" stroke="#1a1a1a" stroke-width="1.3"/>
<line x1="330.40" y1="175.40" x2="330.40" y2="204.60" stroke="#1a1a1a" stroke-width="1.0"/>
<line x1="329.00" y1="175.40" x2="331.80" y2="175.40" stroke="#1a1a1a" stroke-width="1.3"/>
<line x1="329.00" y1="204.60" x2="331.80" y2="204.60" stroke="#1a1a1a" stroke-width="1.3"/>
<line x1="344.00" y1="179.60" x2="344.00" y2="191.80" stroke="#1a1a1a" stroke-width="1.0"/>
<line x1="342.60" y1="179.60" x2="345.40" y2="179.60" stroke="#1a1a1a" stroke-width="1.3"/>
<line x1="342.60" y1="191.80" x2="345.40" y2="191.80" stroke="#1a1a1a" stroke-width="1.3"/>
<rect x="225.5" y="158.5" width="130.0" height="112.0" fill="none" stroke="#444" stroke-width="1"/>
<line x1="300.70" y1="161.10" x2="303.10" y2="155.90" stroke="#111" stroke-width="1.1"/>
<line x1="303.90" y1="161.10" x2="306.30" y2="155.90" stroke="#111" stroke-width="1.1"/>
<line x1="300.70" y1="273.10" x2="303.10" y2="267.90" stroke="#111" stroke-width="1.1"/>
<line x1="303.90" y1="273.10" x2="306.30" y2="267.90" stroke="#111" stroke-width="1.1"/>
<text x="223.00" y="273.60" font-size="10" text-anchor="end" fill="#111" >0.0</text>
<text x="223.00" y="228.85" font-size="10" text-anchor="end" fill="#111" >0.2</text>
<text x="223.00" y="184.10" font-size="10" text-anchor="end" fill="#111" >0.4</text>
<text x="225.50" y="281.00" font-size="10" text-anchor="middle" fill="#111" >0</text>
<text x="260.50" y="281.00" font-size="10" text-anchor="middle" fill="#111" >0.5</text>
<text x="295.50" y="281.00" font-size="10" text-anchor="middle" fill="#111" >1</text>
<text x="316.20" y="281.00" font-size="10" text-anchor="middle" fill="#111" >2</text>
<text x="335.90" y="281.00" font-size="10" text-anchor="middle" fill="#111" >3</text>
<text x="355.60" y="281.00" font-size="10" text-anchor="middle" fill="#111" >4</text>
<text x="290.35" y="295.30" font-size="10" text-anchor="middle" fill="#111" >c(MPS) / <tspan font-family="Liberation Serif">μ</tspan>M</text>
<text x="0" y="0" font-size="9.6" text-anchor="middle" fill="#111" transform="translate(195.6,216.6) rotate(-90)">(I<tspan font-size="6" dy="3">2ω</tspan><tspan dy="-3">/I</tspan><tspan font-size="6" dy="-4.2">0</tspan><tspan font-size="6" dy="7.2">2ω</tspan><tspan dy="-3">) / -</tspan></text></svg>
</body></html>
